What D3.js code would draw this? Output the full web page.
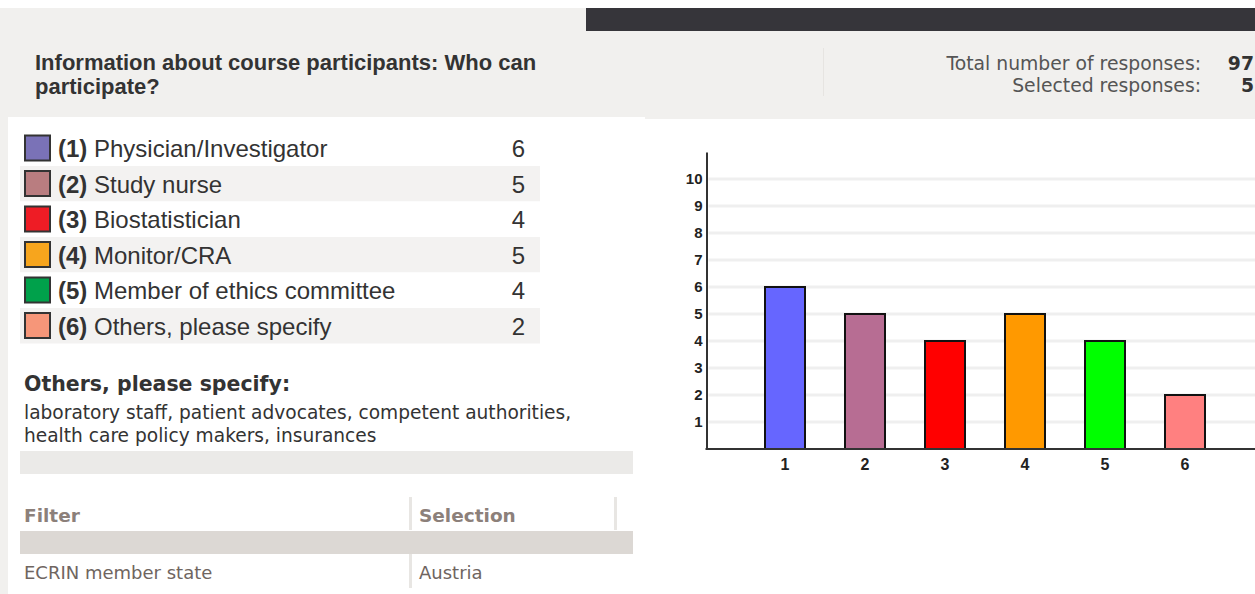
<!DOCTYPE html>
<html>
<head>
<meta charset="utf-8">
<script src="https://cdn.jsdelivr.net/npm/d3@7"></script>
<style>
  html, body { margin: 0; padding: 0; background: #fff; }
  svg { display: block; }
</style>
</head>
<body>
<script>
// answer options and counts
var categories = ["1", "2", "3", "4", "5", "6"]
var optionLabels = ["Physician/Investigator", "Study nurse", "Biostatistician",
                    "Monitor/CRA", "Member of ethics committee", "Others, please specify"]
var counts = [6, 5, 4, 5, 4, 2]
var legendColors = ["#7a72b7", "#b97d80", "#ee1c25", "#f7a51d", "#00a14b", "#f69679"]
var barColors = ["#6666ff", "#b76d93", "#ff0000", "#ff9900", "#00ff00", "#ff8080"]
var yTicks = [1, 2, 3, 4, 5, 6, 7, 8, 9, 10]

var titleLines = ["Information about course participants: Who can", "participate?"]
var totalResponses = 97
var selectedResponses = 5
var othersText = ["laboratory staff, patient advocates, competent authorities,",
                  "health care policy makers, insurances"]
var filterNames = ["ECRIN member state"]
var filterValues = ["Austria"]

var W = 1255, H = 594
var sans = "Liberation Sans, Arial, sans-serif"
var verd = "DejaVu Sans, Verdana, sans-serif"
var narrow = "Liberation Sans Narrow, Arial Narrow, sans-serif"
var svg = d3.select("body").append("svg").attr("width", W).attr("height", H)

// ---- page background / header ----
svg.append("rect").attr("x", 0).attr("y", 8).attr("width", 8).attr("height", H - 8).attr("fill", "#f1f0ee")
svg.append("rect").attr("x", 8).attr("y", 8).attr("width", 640).attr("height", 109).attr("fill", "#f1f0ee")
svg.append("rect").attr("x", 645).attr("y", 8).attr("width", W - 645).attr("height", 111).attr("fill", "#f1f0ee")
svg.append("rect").attr("x", 586).attr("y", 8).attr("width", W - 586).attr("height", 23).attr("fill", "#36353a")
svg.append("line").attr("x1", 823.5).attr("x2", 823.5).attr("y1", 48).attr("y2", 96)
   .attr("stroke", "#e6e4e1").attr("stroke-width", 1)

svg.selectAll("text.title").data(titleLines).enter().append("text")
   .attr("class", "title")
   .attr("x", 35).attr("y", function(d, i) { return 70 + i * 24 })
   .attr("font-family", sans)
   .attr("font-weight", "bold").attr("font-size", 22).attr("fill", "#333")
   .text(function(d) { return d })

var stats = [["Total number of responses:", totalResponses], ["Selected responses:", selectedResponses]]
var statG = svg.selectAll("g.stat").data(stats).enter().append("g").attr("class", "stat")
statG.append("text")
     .attr("x", 1201).attr("y", function(d, i) { return 70 + i * 22 })
     .attr("text-anchor", "end")
     .attr("font-family", verd).attr("font-size", 18.8).attr("fill", "#555")
     .text(function(d) { return d[0] })
statG.append("text")
     .attr("x", 1254).attr("y", function(d, i) { return 70 + i * 22 })
     .attr("text-anchor", "end")
     .attr("font-family", verd).attr("font-size", 18.8)
     .attr("font-weight", "bold").attr("fill", "#333")
     .text(function(d) { return d[1] })

// ---- legend table ----
var rowH = 35.5, rowTop = 130.5
var rows = svg.selectAll("g.row").data(categories).enter().append("g")
   .attr("class", "row")
   .attr("transform", function(d, i) { return "translate(0," + (rowTop + i * rowH) + ")" })
rows.append("rect").attr("x", 20).attr("y", 0).attr("width", 520).attr("height", rowH)
    .attr("fill", function(d, i) { return i % 2 ? "#f3f2f1" : "#fff" })
rows.append("rect").attr("x", 25).attr("y", 5).attr("width", 25).attr("height", 25)
    .attr("fill", function(d, i) { return legendColors[i] })
    .attr("stroke", "#333").attr("stroke-width", 2)
var lt = rows.append("text").attr("x", 58).attr("y", 26.5)
    .attr("font-family", sans).attr("font-size", 24).attr("fill", "#333")
lt.append("tspan").attr("font-weight", "bold").text(function(d) { return "(" + d + ") " })
lt.append("tspan").text(function(d, i) { return optionLabels[i] })
rows.append("text").attr("x", 525).attr("y", 26.5).attr("text-anchor", "end")
    .attr("font-family", sans).attr("font-size", 24).attr("fill", "#333")
    .text(function(d, i) { return counts[i] })

// ---- others text ----
svg.append("text").attr("x", 24).attr("y", 391)
   .attr("font-family", verd).attr("font-size", 20.5)
   .attr("font-weight", "bold").attr("fill", "#333")
   .text("Others, please specify:")
svg.selectAll("text.other").data(othersText).enter().append("text")
   .attr("class", "other")
   .attr("x", 24).attr("y", function(d, i) { return 419 + i * 23 })
   .attr("font-family", verd).attr("font-size", 18.6).attr("fill", "#333")
   .text(function(d) { return d })

// ---- filter table ----
svg.append("rect").attr("x", 20).attr("y", 451).attr("width", 613).attr("height", 23).attr("fill", "#ebeae8")
svg.append("rect").attr("x", 20).attr("y", 531).attr("width", 613).attr("height", 23).attr("fill", "#dcd8d4")
var seps = [[409, 497, 530], [614, 497, 530], [409, 554, 588]]
svg.selectAll("rect.sep").data(seps).enter().append("rect").attr("class", "sep")
   .attr("x", function(d) { return d[0] }).attr("y", function(d) { return d[1] })
   .attr("width", 3).attr("height", function(d) { return d[2] - d[1] })
   .attr("fill", "#e8e6e3")
var heads = [["Filter", 24], ["Selection", 419]]
svg.selectAll("text.head").data(heads).enter().append("text").attr("class", "head")
   .attr("x", function(d) { return d[1] }).attr("y", 522)
   .attr("font-family", verd).attr("font-size", 18.5)
   .attr("font-weight", "bold").attr("fill", "#8c807a")
   .text(function(d) { return d[0] })
svg.selectAll("text.fname").data(filterNames).enter().append("text").attr("class", "fname")
   .attr("x", 24).attr("y", function(d, i) { return 579 + i * 30 })
   .attr("font-family", verd).attr("font-size", 18).attr("fill", "#6f6560")
   .text(function(d) { return d })
svg.selectAll("text.fval").data(filterValues).enter().append("text").attr("class", "fval")
   .attr("x", 419).attr("y", function(d, i) { return 579 + i * 30 })
   .attr("font-family", verd).attr("font-size", 18).attr("fill", "#6f6560")
   .text(function(d) { return d })

// ---- bar chart ----
var x = d3.scaleBand().domain(categories).range([745, 1225]).paddingInner(0.5).paddingOuter(0.25)
var y = d3.scaleLinear().domain([0, 11]).range([449, 152])
var axisLeft = 706.5

var chart = svg.append("g")
chart.selectAll("line.grid").data(yTicks).enter().append("line").attr("class", "grid")
     .attr("x1", axisLeft + 2).attr("x2", W)
     .attr("y1", function(d) { return y(d) }).attr("y2", function(d) { return y(d) })
     .attr("stroke", "#efefef").attr("stroke-width", 3)

chart.selectAll("rect.bar").data(counts).enter().append("rect").attr("class", "bar")
     .attr("x", function(d, i) { return x(categories[i]) })
     .attr("y", function(d) { return y(d) })
     .attr("width", x.bandwidth())
     .attr("height", function(d) { return y(0) - y(d) })
     .attr("fill", function(d, i) { return barColors[i] })
     .attr("stroke", "#111").attr("stroke-width", 2)

var yAxis = chart.append("g").attr("transform", "translate(" + axisLeft + ",0)")
     .call(d3.axisLeft(y).tickValues(yTicks).tickSize(0).tickPadding(4).tickSizeOuter(0))
yAxis.select(".domain").attr("stroke", "#333").attr("stroke-width", 2)
yAxis.selectAll("text").attr("font-family", narrow)
     .attr("font-weight", "bold").attr("font-size", 15).attr("fill", "#222")

chart.append("line").attr("x1", axisLeft - 1).attr("x2", W)
     .attr("y1", y(0)).attr("y2", y(0)).attr("stroke", "#333").attr("stroke-width", 2)

var xAxis = chart.append("g").attr("transform", "translate(0," + y(0) + ")")
     .call(d3.axisBottom(x).tickSize(0).tickPadding(10))
xAxis.select(".domain").remove()
xAxis.selectAll("text").attr("font-family", narrow)
     .attr("font-weight", "bold").attr("font-size", 16).attr("fill", "#222")
</script>
</body>
</html>
